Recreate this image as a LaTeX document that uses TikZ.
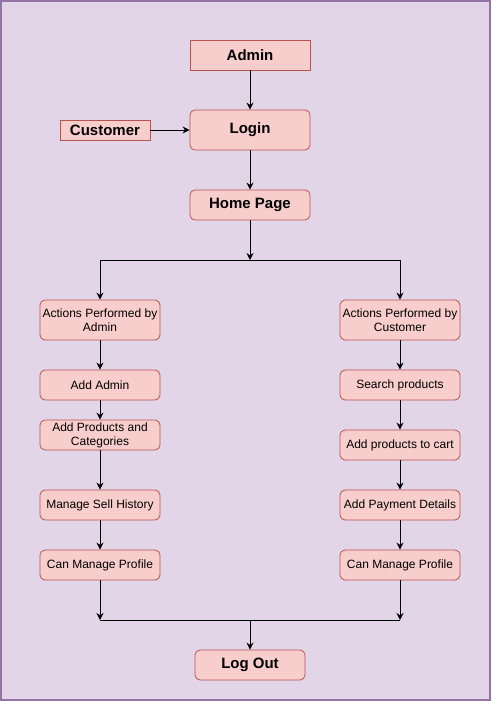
\documentclass[tikz,border=0pt]{standalone}
\usepackage{fontspec}
\setmainfont{Liberation Sans}
\usetikzlibrary{arrows.meta}
\definecolor{bgpurple}{HTML}{E1D5E7}
\definecolor{framepurple}{HTML}{9673A6}
\definecolor{boxfill}{HTML}{F8CECC}
\definecolor{boxline}{HTML}{B85450}
\begin{document}
\begin{tikzpicture}[x=1pt, y=-1pt,
	box/.style={shape=rectangle, draw=boxline, fill=boxfill, line width=0.8pt, minimum width=120pt, minimum height=30pt, inner sep=0pt, align=center, font=\fontsize{12}{14}\selectfont},
	rbox/.style={box, rounded corners=5pt},
	head/.style={font=\fontsize{15}{18}\selectfont\bfseries},
	arr/.style={-{Stealth[length=7pt, width=7pt]}, line width=1pt, black}]
	\useasboundingbox (0,0) rectangle (491,701);
	\draw[fill=bgpurple, draw=framepurple, line width=2pt] (1,1) rectangle (490,700);

	\node[box, head]                                   (admin)  at (250,55)  {Admin};
	\node[box, head, minimum width=90pt, minimum height=20pt] (cust) at (105,130) {Customer};
	\node[rbox, head, minimum height=40pt]             (login)  at (250,130) {Login};
	\node[rbox, head]                                  (home)   at (250,205) {Home Page};

	\node[rbox, minimum height=40pt]                   (aact)   at (100,320) {Actions Performed by\\Admin};
	\node[rbox]                                        (aadd)   at (100,385) {Add Admin};
	\node[rbox]                                        (aprod)  at (100,435) {Add Products and\\Categories};
	\node[rbox]                                        (asell)  at (100,505) {Manage Sell History};
	\node[rbox]                                        (aprof)  at (100,565) {Can Manage Profile};

	\node[rbox, minimum height=40pt]                   (cact)   at (400,320) {Actions Performed by\\Customer};
	\node[rbox]                                        (csrch)  at (400,385) {Search products};
	\node[rbox]                                        (ccart)  at (400,445) {Add products to cart};
	\node[rbox]                                        (cpay)   at (400,505) {Add Payment Details};
	\node[rbox]                                        (cprof)  at (400,565) {Can Manage Profile};

	\node[rbox, head, minimum width=110pt]             (logout) at (250,665) {Log Out};

	\coordinate (split)  at (250,260);
	\coordinate (mleft)  at (100,620);
	\coordinate (mright) at (400,620);
	\coordinate (merge)  at (250,620);

	\path [arr] (admin) edge (login);
	\path [arr] (cust)  edge (login);
	\path [arr] (login) edge (home);
	\path [arr] (home)  edge (split);
	\draw [arr] (split) -| (aact);
	\draw [arr] (split) -| (cact);

	\path [arr] (aact)  edge (aadd);
	\path [arr] (aadd)  edge (aprod);
	\path [arr] (aprod) edge (asell);
	\path [arr] (asell) edge (aprof);

	\path [arr] (cact)  edge (csrch);
	\path [arr] (csrch) edge (ccart);
	\path [arr] (ccart) edge (cpay);
	\path [arr] (cpay)  edge (cprof);

	\path [arr] (aprof) edge (mleft);
	\path [arr] (cprof) edge (mright);
	\draw [line width=1pt] (mleft) -- (mright);
	\path [arr] (merge) edge (logout);
\end{tikzpicture}
\end{document}
